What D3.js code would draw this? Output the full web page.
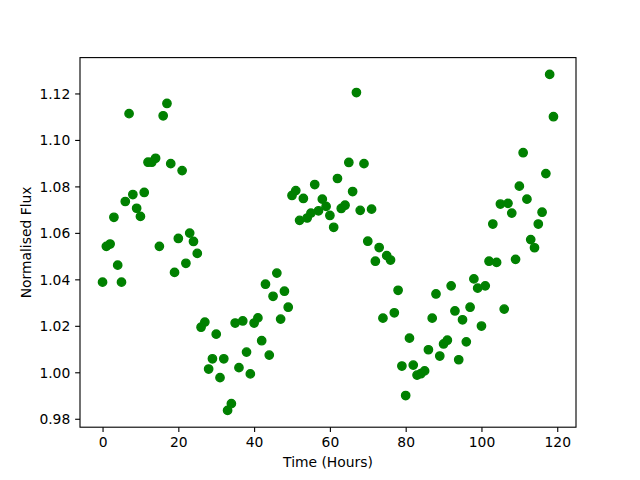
<!DOCTYPE html>
<html>
<head>
<meta charset="utf-8">
<script src="https://cdn.jsdelivr.net/npm/d3@7"></script>
<style>
  html, body { margin: 0; padding: 0; background: #ffffff; }
  #chart { width: 640px; height: 480px; }
</style>
</head>
<body>
<div id="chart"></div>
<script>
// hourly samples, 0..119
const hours = d3.range(0, 120);

const flux = [
  1.0388, 1.0542, 1.0552, 1.0667, 1.0461, 1.0388, 1.0735, 1.1113, 1.0765, 1.0706,
  1.0671, 1.0774, 1.0904, 1.0904, 1.0921, 1.0542, 1.1104, 1.1157, 1.0898, 1.0430,
  1.0576, 1.0868, 1.0469, 1.0599, 1.0563, 1.0512, 1.0194, 1.0216, 1.0014, 1.0058,
  1.0164, 0.9977, 1.0058, 0.9836, 0.9865, 1.0212, 1.0020, 1.0221, 1.0087, 0.9993,
  1.0212, 1.0234, 1.0136, 1.0379, 1.0074, 1.0327, 1.0427, 1.0229, 1.0349, 1.0280,
  1.0761, 1.0782, 1.0654, 1.0748, 1.0664, 1.0685, 1.0808, 1.0695, 1.0745, 1.0714,
  1.0675, 1.0624, 1.0834, 1.0705, 1.0719, 1.0903, 1.0778, 1.1204, 1.0697, 1.0898,
  1.0564, 1.0702, 1.0478, 1.0537, 1.0233, 1.0502, 1.0483, 1.0256, 1.0353, 1.0027,
  0.9900, 1.0147, 1.0031, 0.9988, 0.9994, 1.0006, 1.0097, 1.0233, 1.0337, 1.0070,
  1.0122, 1.0138, 1.0372, 1.0264, 1.0054, 1.0226, 1.0131, 1.0280, 1.0402, 1.0362,
  1.0199, 1.0372, 1.0478, 1.0638, 1.0473, 1.0724, 1.0272, 1.0727, 1.0685, 1.0486,
  1.0801, 1.0945, 1.0745, 1.0571, 1.0536, 1.0638, 1.0689, 1.0855, 1.1282, 1.1100
];

const xTickValues = [0, 20, 40, 60, 80, 100, 120];
const yTickValues = [0.98, 1.00, 1.02, 1.04, 1.06, 1.08, 1.10, 1.12];

const xTitle = "Time (Hours)";
const yTitle = "Normalised Flux";

const colors = {
  marker: "#008000",
  axis: "#000000",
  text: "#000000",
};

const config = {
  width: 640,
  height: 480,
  left: 80,
  right: 576,
  top: 57.6,
  bottom: 427.2,
  fontSize: 13.89,
  tickLength: 4.86,
  tickPad: 4.86,
  markerRadius: 4.17,
  markerEdge: 1.39,
};

// matplotlib-like auto limits: 5% margin on each side
function padded(values) {
  const [lo, hi] = d3.extent(values);
  const m = (hi - lo) * 0.05;
  return [lo - m, hi + m];
}

const svg = d3.select("#chart")
  .append("svg")
  .attr("width", config.width)
  .attr("height", config.height)
  .style("font-family", "'DejaVu Sans', sans-serif");

const x = d3.scaleLinear().domain(padded(hours)).range([config.left, config.right]);
const y = d3.scaleLinear().domain(padded(flux)).range([config.bottom, config.top]);

// x axis
const xAxis = d3.axisBottom(x)
  .tickValues(xTickValues)
  .tickFormat(d3.format("d"))
  .tickSizeInner(config.tickLength)
  .tickSizeOuter(0)
  .tickPadding(config.tickPad);

const gx = svg.append("g")
  .attr("class", "xAxis")
  .attr("transform", `translate(0,${config.bottom})`)
  .call(xAxis);

// y axis
const yAxis = d3.axisLeft(y)
  .tickValues(yTickValues)
  .tickFormat(d3.format(".2f"))
  .tickSizeInner(config.tickLength)
  .tickSizeOuter(0)
  .tickPadding(config.tickPad);

const gy = svg.append("g")
  .attr("class", "yAxis")
  .attr("transform", `translate(${config.left},0)`)
  .call(yAxis);

svg.selectAll(".domain").remove();
svg.selectAll(".tick line")
  .attr("stroke", colors.axis)
  .attr("stroke-width", 1.11);
svg.selectAll(".tick text")
  .attr("fill", colors.text)
  .style("font-size", `${config.fontSize}px`)
  .style("font-family", "'DejaVu Sans', sans-serif");

gx.selectAll(".tick text")
  .attr("dy", null)
  .attr("y", config.tickLength + config.tickPad + 10.1);
gy.selectAll(".tick text")
  .attr("dy", "0.36em");

// markers
svg.append("g")
  .selectAll("circle")
  .data(hours)
  .enter()
  .append("circle")
  .attr("cx", (d) => x(d))
  .attr("cy", (d, i) => y(flux[i]))
  .attr("r", config.markerRadius)
  .attr("fill", colors.marker)
  .attr("stroke", colors.marker)
  .attr("stroke-width", config.markerEdge);

// frame (all four spines)
svg.append("rect")
  .attr("x", config.left)
  .attr("y", config.top)
  .attr("width", config.right - config.left)
  .attr("height", config.bottom - config.top)
  .attr("fill", "none")
  .attr("stroke", colors.axis)
  .attr("stroke-width", 1.11);

// axis titles
svg.append("text")
  .attr("x", (config.left + config.right) / 2)
  .attr("y", 467)
  .attr("text-anchor", "middle")
  .attr("fill", colors.text)
  .style("font-size", `${config.fontSize}px`)
  .text(xTitle);

svg.append("text")
  .attr("transform", `translate(30.5,${(config.top + config.bottom) / 2}) rotate(-90)`)
  .attr("text-anchor", "middle")
  .attr("fill", colors.text)
  .style("font-size", `${config.fontSize}px`)
  .text(yTitle);
</script>
</body>
</html>
